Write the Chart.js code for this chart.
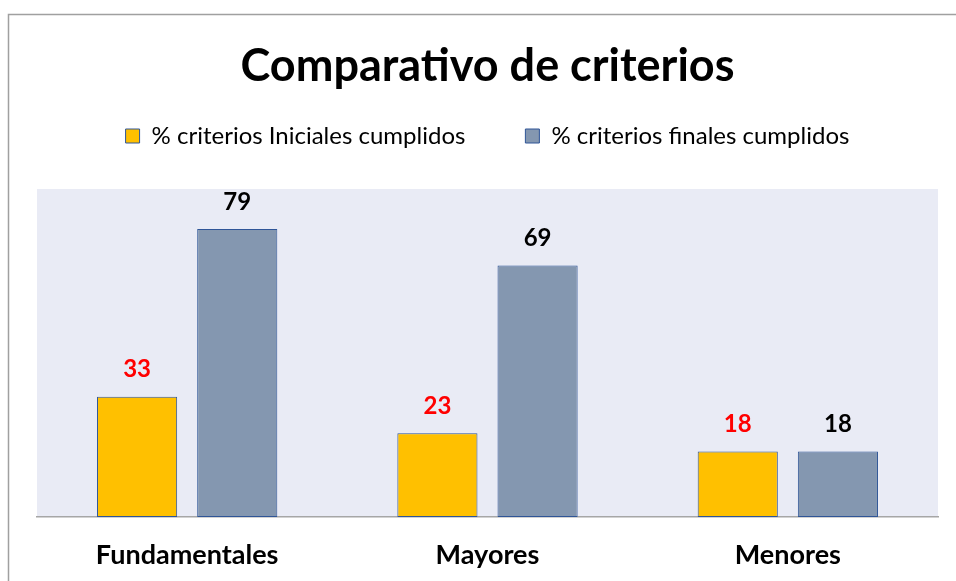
<!DOCTYPE html>
<html><head><meta charset="utf-8">
<script src="https://cdn.jsdelivr.net/npm/chart.js@4.4.1/dist/chart.umd.min.js"></script>
<style>html,body{margin:0;padding:0;background:#fff}#w{width:956px;height:581px}</style>
</head><body><div id="w"><canvas id="c"></canvas></div>
<script>
const categories = ["Fundamentales", "Mayores", "Menores"];
const seriesNames = ["% criterios Iniciales cumplidos", "% criterios finales cumplidos"];
const initialValues = [33, 23, 18];
const finalValues = [79, 69, 18];
const FONT = "Lato, 'Open Sans', sans-serif";

const decor = {
  id: 'decor',
  beforeDraw(chart) {
    const {ctx, chartArea: a} = chart;
    ctx.save();
    ctx.fillStyle = '#fff';
    ctx.fillRect(0, 0, chart.width, chart.height);
    ctx.strokeStyle = '#a0a0a0';
    ctx.lineWidth = 1.5;
    ctx.beginPath();
    ctx.moveTo(8.5, chart.height + 2);
    ctx.lineTo(8.5, 14.5);
    ctx.lineTo(chart.width + 2, 14.5);
    ctx.stroke();
    ctx.fillStyle = '#E9EBF5';
    ctx.fillRect(a.left, a.top, a.right - a.left, a.bottom - a.top);
    ctx.restore();
  },
  afterDatasetsDraw(chart) {
    const {ctx} = chart;
    const colors = ['#FF0000', '#000000'];
    ctx.save();
    ctx.font = "bold 24px " + FONT;
    ctx.textAlign = 'center';
    ctx.textBaseline = 'middle';
    chart.data.datasets.forEach((ds, i) => {
      const meta = chart.getDatasetMeta(i);
      meta.data.forEach((el, j) => {
        ctx.fillStyle = colors[i];
        ctx.fillText(String(ds.data[j]), el.x, el.y - 27);
      });
    });
    ctx.restore();
  }
};

new Chart(document.getElementById('c'), {
  type: 'bar',
  data: {
    labels: categories,
    datasets: [
      {label: seriesNames[0], data: initialValues, backgroundColor: '#FFC000', borderColor: '#2F5597', borderWidth: 1, borderSkipped: false},
      {label: seriesNames[1], data: finalValues, backgroundColor: '#8497B0', borderColor: '#2F5597', borderWidth: 1, borderSkipped: false}
    ]
  },
  options: {
    responsive: true,
    maintainAspectRatio: false,
    animation: false,
    devicePixelRatio: 1,
    layout: {padding: {left: 37, right: 18, top: 0, bottom: 0}},
    datasets: {bar: {categoryPercentage: 0.667, barPercentage: 0.8}},
    plugins: {
      title: {display: true, text: 'Comparativo de criterios', color: '#000',
        font: {family: FONT, size: 45, weight: 'bold', lineHeight: 1.2},
        padding: {top: 39, bottom: -29}},
      legend: {display: true, position: 'top', weight: 1000,
        labels: {color: '#000', font: {family: FONT, size: 24}, boxWidth: 14, boxHeight: 14, padding: 60}},
      subtitle: {display: true, text: ' ', position: 'top', weight: 500,
        font: {size: 10, lineHeight: 1}, padding: {top: 0, bottom: 21}},
      tooltip: {enabled: false}
    },
    scales: {
      x: {
        grid: {display: false, drawTicks: false},
        border: {display: true, color: '#a6a6a6', width: 1.5},
        ticks: {color: '#000', font: {family: FONT, size: 27, weight: 'bold'}, padding: 22},
        afterFit(scale) { scale.height = 64; }
      },
      y: {display: false, min: 0, max: 90}
    }
  },
  plugins: [decor]
});
</script>
</body></html>
